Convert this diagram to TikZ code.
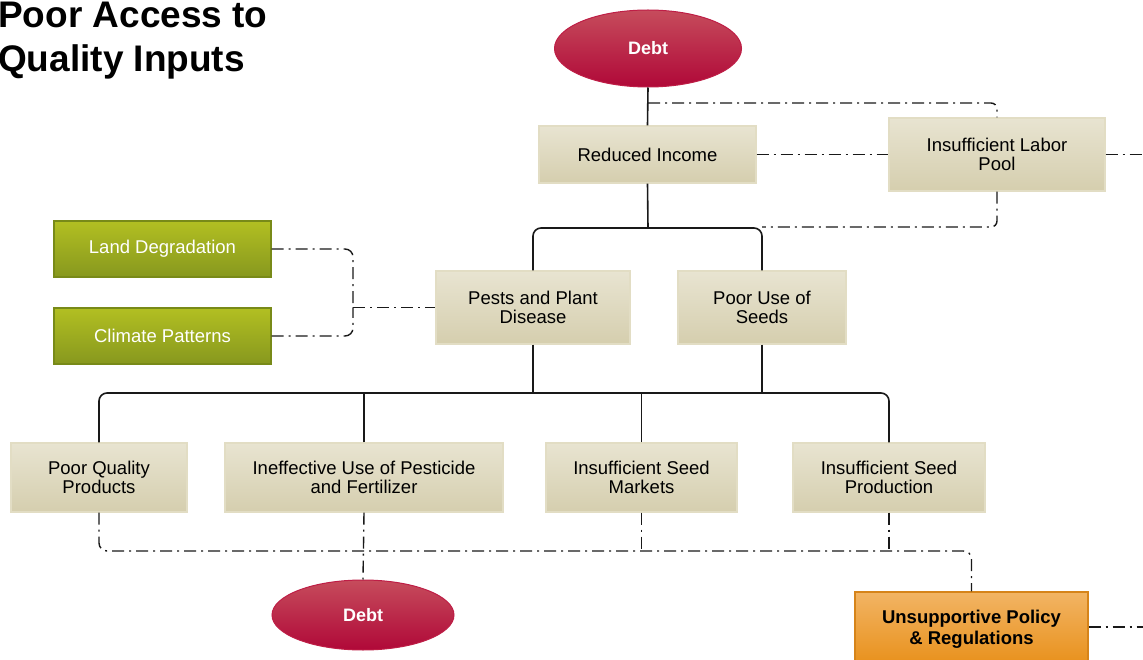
\documentclass[tikz,border=0pt]{standalone}
\usepackage{fontspec}
\setmainfont{Liberation Sans}
\usetikzlibrary{shapes.geometric}
\definecolor{tantop}{RGB}{232,228,209}
\definecolor{tanbot}{RGB}{213,206,174}
\definecolor{tanline}{RGB}{226,221,196}
\definecolor{grtop}{RGB}{178,191,34}
\definecolor{grbot}{RGB}{135,152,30}
\definecolor{grline}{RGB}{120,138,24}
\definecolor{dbtop}{RGB}{198,76,92}
\definecolor{dbbot}{RGB}{176,8,56}
\definecolor{dbline}{RGB}{190,30,70}
\definecolor{ortop}{RGB}{242,180,100}
\definecolor{orbot}{RGB}{232,144,26}
\definecolor{orline}{RGB}{214,132,26}
\begin{document}
\begin{tikzpicture}[x=1pt,y=-1pt,
  tanbox/.style={rectangle, draw=tanline, line width=1.2pt, top color=tantop, bottom color=tanbot,
    align=center, inner sep=0pt, font=\fontsize{18.5}{19.5}\selectfont, text=black},
  greenbox/.style={rectangle, draw=grline, line width=1.2pt, top color=grtop, bottom color=grbot,
    align=center, inner sep=0pt, font=\fontsize{18.5}{19.5}\selectfont, text=white,
    minimum width=217pt, minimum height=56pt},
  debtnode/.style={ellipse, draw=dbline, line width=1pt, top color=dbtop, bottom color=dbbot,
    inner sep=0pt, font=\fontsize{18}{20}\selectfont\bfseries, text=white},
  orbox/.style={rectangle, draw=orline, line width=1.2pt, top color=ortop, bottom color=orbot,
    align=center, inner sep=0pt, font=\fontsize{18.5}{21}\selectfont\bfseries, text=black},
  conn/.style={draw=black!90, line width=1.6pt},
  dd/.style={draw=black!90, line width=1.4pt, dash pattern=on 12pt off 5pt on 2pt off 5pt}
]
\useasboundingbox (0,0) rectangle (1143,660);

% title
\node[anchor=north west, inner sep=0pt, align=left,
  font=\fontsize{37}{44}\selectfont\bfseries] (title) at (-2,2) {Poor Access to\\Quality Inputs};

% nodes
\node[debtnode, minimum width=187pt, minimum height=77pt] (d1) at (648,48.5) {Debt};
\node[tanbox, minimum width=217pt, minimum height=57pt] (ri) at (647.5,154.5) {Reduced Income};
\node[tanbox, minimum width=216pt, minimum height=73pt] (lp) at (997,154.5) {Insufficient Labor\\Pool};
\node[greenbox] (ld) at (162.5,249) {Land Degradation};
\node[greenbox] (cp) at (162.5,336) {Climate Patterns};
\node[tanbox, minimum width=194pt, minimum height=73pt] (pp) at (533,307.5) {Pests and Plant\\Disease};
\node[tanbox, minimum width=168pt, minimum height=73pt] (pu) at (762,307.5) {Poor Use of\\Seeds};
\node[tanbox, minimum width=176pt, minimum height=69pt] (pq) at (99,477.5) {Poor Quality\\Products};
\node[tanbox, minimum width=278pt, minimum height=69pt] (ie) at (364,477.5) {Ineffective Use of Pesticide\\and Fertilizer};
\node[tanbox, minimum width=191pt, minimum height=69pt] (sm) at (641.5,477.5) {Insufficient Seed\\Markets};
\node[tanbox, minimum width=192pt, minimum height=69pt] (ps) at (889,477.5) {Insufficient Seed\\Production};
\node[debtnode, minimum width=182pt, minimum height=70pt] (d2) at (363,615) {Debt};
\node[orbox, minimum width=233pt, minimum height=74pt] (po) at (971.5,629) {Unsupportive Policy\\\& Regulations};

% helper coordinates
\coordinate (b1) at (648,228);
\coordinate (b2) at (533,393);
\coordinate (t1) at (648,103);
\coordinate (t2) at (762,227);
\coordinate (m1) at (353,307.5);
\coordinate (m2) at (364,551);
\coordinate (m3) at (971.5,551);
\coordinate (e1) at (1143,154.5);
\coordinate (e2) at (1143,627);

% solid connectors
\draw[conn] (d1.south) -- (ri.north);
\draw[conn, rounded corners=8pt] (pp.north) |- (b1) -| (pu.north);
\draw[conn] (ri.south) -- (b1);
\draw[conn, rounded corners=8pt] (pq.north) |- (b2) -| (ps.north);
\draw[conn] (pp.south) -- (pp.south |- b2);
\draw[conn] (pu.south) -- (pu.south |- b2);
\draw[conn] (ie.north) -- (ie.north |- b2);
\draw[conn] (sm.north) -- (sm.north |- b2);

% dash-dot connectors
\draw[dd, rounded corners=6pt] (t1) -| (lp.north);
\draw[dd] (ri.east) -- (lp.west);
\draw[dd, rounded corners=6pt] (lp.south) |- (t2);
\draw[dd] (lp.east) -- (e1);
\draw[dd, rounded corners=8pt] (ld.east) -| (m1);
\draw[dd, rounded corners=8pt] (cp.east) -| (m1);
\draw[dd] (m1) -- (pp.west);
\draw[dd, rounded corners=8pt] (pq.south) |- (m3) -- (po.north);
\draw[dd] (ie.south) -- (d2.north);
\draw[dd] (sm.south) -- (sm.south |- m2);
\draw[dd] (ps.south) -- (ps.south |- m2);
\draw[dd] (po.east |- e2) -- (e2);
\end{tikzpicture}
\end{document}
